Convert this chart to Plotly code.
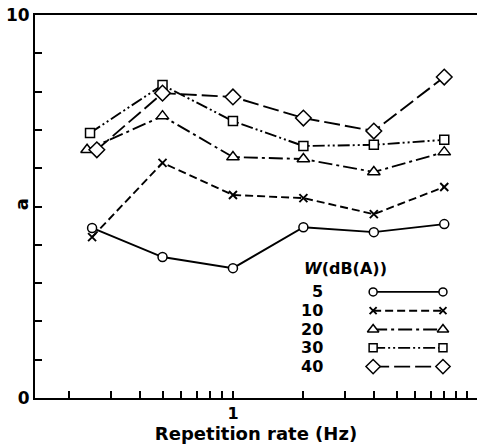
import plotly.graph_objects as go

# Repetition rate (Hz) for each level; the first point is nudged where markers overlap
rate_5 = [0.25, 0.5, 1, 2, 4, 8]
rate_10 = [0.25, 0.5, 1, 2, 4, 8]
rate_20 = [0.238, 0.5, 1, 2, 4, 8]
rate_30 = [0.245, 0.5, 1, 2, 4, 8]
rate_40 = [0.262, 0.5, 1, 2, 4, 8]

# a values per W level
a_5 = [4.44, 3.68, 3.39, 4.46, 4.33, 4.54]
a_10 = [4.20, 6.14, 5.30, 5.22, 4.80, 5.51]
a_20 = [6.48, 7.36, 6.29, 6.24, 5.90, 6.42]
a_30 = [6.92, 8.17, 7.23, 6.58, 6.61, 6.74]
a_40 = [6.48, 7.96, 7.86, 7.31, 6.97, 8.38]

levels = ["5", "10", "20", "30", "40"]
x_ticks = [0.2, 0.3, 0.4, 0.5, 0.6, 0.7, 0.8, 0.9, 1, 2, 3, 4, 5, 6, 7, 8, 9, 10]
x_tick_text = ["<b>1</b>" if v == 1 else "<b>10</b>" if v == 10 else "" for v in x_ticks]
y_ticks = list(range(0, 11))
y_tick_text = ["<b>0</b>" if v == 0 else "<b>10</b>" if v == 10 else "" for v in y_ticks]

FONT = "DejaVu Sans"
INK = "black"
LW = 1.9
MW = 1.5

# Hollow markers are white-filled so the connecting lines stop at their outlines
styles = [
    dict(symbol="circle", size=9, dash="solid", fill="white"),
    dict(symbol="x-thin-open", size=8, dash="8px,4px", fill=INK),
    dict(symbol="triangle-up", size=11, dash="14px,4px,3px,4px", fill="white"),
    dict(symbol="square", size=9, dash="12px,3px,2px,3px,2px,3px", fill="white"),
    dict(symbol="diamond", size=12, dash="16px,5px", fill="white"),
]
series = [(rate_5, a_5), (rate_10, a_10), (rate_20, a_20), (rate_30, a_30), (rate_40, a_40)]


def marker_for(st, shrink=0):
    width = LW if st["symbol"].startswith("x") else MW
    return dict(symbol=st["symbol"], size=st["size"] - shrink, color=st["fill"],
                line=dict(color=INK, width=width))


fig = go.Figure()
for (xs, ys), st, name in zip(series, styles, levels):
    fig.add_trace(go.Scatter(
        x=xs, y=ys, mode="lines+markers", name=name, showlegend=False,
        line=dict(color=INK, width=LW, dash=st["dash"]),
        marker=marker_for(st),
    ))

# Hand-drawn key in the lower right, on an overlay axis spanning the plot area
key_left, key_right = 0.765, 0.923
key_rows = [0.277, 0.228, 0.179, 0.131, 0.082]
for st, yk in zip(styles, key_rows):
    fig.add_trace(go.Scatter(
        x=[key_left, key_right], y=[yk, yk], xaxis="x2", yaxis="y2",
        mode="lines+markers", showlegend=False, hoverinfo="skip",
        line=dict(color=INK, width=LW, dash=st["dash"]),
        marker=marker_for(st, shrink=1),
    ))

annotations = [dict(
    x=0.604, y=0.339, xref="paper", yref="paper", xanchor="left", yanchor="middle",
    text="<b><i>W</i>(dB(A))</b>", showarrow=False, font=dict(family=FONT, size=16, color=INK),
)]
for name, yk in zip(levels, key_rows):
    annotations.append(dict(
        x=0.656, y=yk, xref="paper", yref="paper", xanchor="right", yanchor="middle",
        text="<b>" + name + "</b>", showarrow=False,
        font=dict(family=FONT, size=16, color=INK),
    ))
# y-axis title, set between the tick labels and the axis line
annotations.append(dict(
    x=-0.03, y=0.505, xref="paper", yref="paper", xanchor="center", yanchor="middle",
    text="<b>a</b>", textangle=-90, showarrow=False,
    font=dict(family=FONT, size=18, color=INK),
))

fig.update_layout(
    width=477, height=444,
    margin=dict(l=35, r=0, t=15, b=46),
    paper_bgcolor="white", plot_bgcolor="white",
    font=dict(family=FONT, size=17, color=INK),
    xaxis=dict(
        type="log", range=[-0.846, 1.043],
        tickvals=x_ticks, ticktext=x_tick_text,
        ticks="inside", ticklen=7, tickwidth=LW, tickcolor=INK,
        showline=True, linewidth=2, linecolor=INK, mirror=True,
        showgrid=False, zeroline=False,
        title=dict(text="<b>Repetition rate (Hz)</b>", font=dict(family=FONT, size=18), standoff=0),
        tickfont=dict(family=FONT, size=16),
    ),
    yaxis=dict(
        range=[0, 10], tickvals=y_ticks, ticktext=y_tick_text,
        ticks="inside", ticklen=7, tickwidth=LW, tickcolor=INK,
        showline=True, linewidth=2, linecolor=INK,
        showgrid=False, zeroline=False,
        tickfont=dict(family=FONT, size=17),
    ),
    xaxis2=dict(overlaying="x", range=[0, 1], visible=False, fixedrange=True),
    yaxis2=dict(overlaying="y", range=[0, 1], visible=False, fixedrange=True),
    annotations=annotations,
)

fig.write_html("out.html")
